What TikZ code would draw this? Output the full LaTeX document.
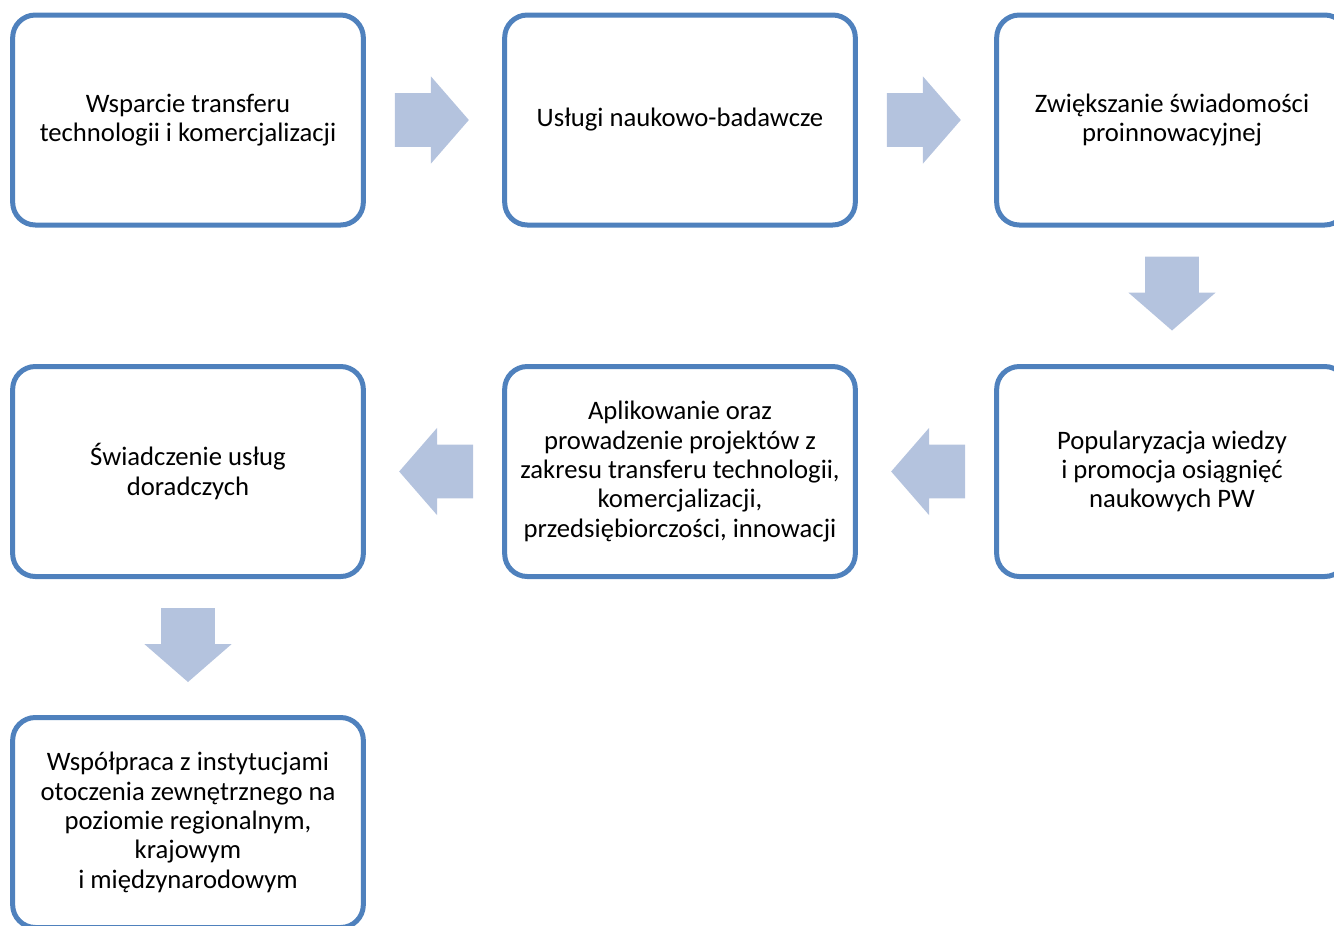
\documentclass[tikz,border=0pt]{standalone}
\usepackage{fontspec}
\setmainfont{Carlito}
\usetikzlibrary{shapes.arrows,calc}
\definecolor{boxblue}{RGB}{79,129,189}
\definecolor{arrowblue}{RGB}{180,195,222}

\begin{document}
\begin{tikzpicture}[
  x=0.75pt, y=-0.75pt,
  box/.style={rectangle, draw=boxblue, line width=3.75pt, rounded corners=17pt, fill=white,
    minimum width=263pt, minimum height=157.5pt, inner sep=0pt, align=center,
    font=\fontsize{20}{22}\selectfont},
  flow/.style={single arrow, fill=arrowblue, draw=none, inner xsep=0pt, inner ysep=19.9pt,
    outer sep=0pt, minimum height=55.5pt, anchor=tail,
    single arrow head extend=12.6pt, single arrow tip angle=98}
]
\clip (0,0) rectangle (1334,925);

\node[box] (wsparcie) at (188,120) {Wsparcie transferu\\technologii i komercjalizacji};
\node[box] (uslugi) at (680,120) {Usługi naukowo-badawcze};
\node[box] (swiadomosc) at (1172,120) {Zwiększanie świadomości\\proinnowacyjnej};
\node[box] (popularyzacja) at (1172,471.5) {Popularyzacja wiedzy\\ i promocja osiągnięć\\naukowych PW};
\node[box] (aplikowanie) at (680,471.5) {Aplikowanie oraz\\prowadzenie projektów z\\zakresu transferu technologii,\\komercjalizacji,\\przedsiębiorczości, innowacji};
\node[box] (doradztwo) at (188,471.5) {Świadczenie usług\\doradczych};
\node[box] (wspolpraca) at (188,822.5) {Współpraca z instytucjami\\otoczenia zewnętrznego na\\poziomie regionalnym,\\krajowym\\i międzynarodowym};

\node[flow] (f1) at ($(wsparcie.east)!21.75pt!(uslugi.west)$) {};
\node[flow] (f2) at ($(uslugi.east)!21.75pt!(swiadomosc.west)$) {};
\node[flow, rotate=-90] (f3) at ($(swiadomosc.south)!21.75pt!(popularyzacja.north)$) {};
\node[flow, rotate=180] (f4) at ($(popularyzacja.west)!21.75pt!(aplikowanie.east)$) {};
\node[flow, rotate=180] (f5) at ($(aplikowanie.west)!21.75pt!(doradztwo.east)$) {};
\node[flow, rotate=-90] (f6) at ($(doradztwo.south)!21.75pt!(wspolpraca.north)$) {};
\end{tikzpicture}
\end{document}
